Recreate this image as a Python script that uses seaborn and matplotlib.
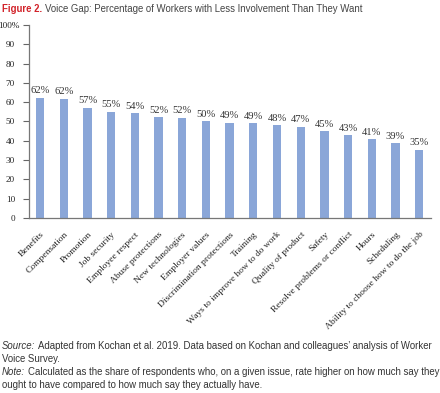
import matplotlib
matplotlib.use("Agg")
import matplotlib.pyplot as plt
import matplotlib.transforms as mtransforms
import seaborn as sns
import pandas as pd

categories = ["Benefits", "Compensation", "Promotion", "Job security", "Employee respect",
              "Abuse protections", "New technologies", "Employer values",
              "Discrimination protections", "Training", "Ways to improve how to do work",
              "Quality of product", "Safety", "Resolve problems or conflict", "Hours",
              "Scheduling", "Ability to choose how to do the job"]
values = [62.2, 61.8, 57.2, 55.1, 54.2, 52.2, 51.9, 50.0, 49.3, 49.2, 48.1, 47.3,
          45.0, 42.9, 40.7, 38.8, 35.4]
yticks = [0, 10, 20, 30, 40, 50, 60, 70, 80, 90, 100]
ytick_labels = ["0", "10", "20", "30", "40", "50", "60", "70", "80", "90", "100%"]

title_red = "Figure 2."
title_rest = "Voice Gap: Percentage of Workers with Less Involvement Than They Want"
source_lines = [("Source:", "Adapted from Kochan et al. 2019. Data based on Kochan and colleagues\u2019 analysis of Worker"),
                (None, "Voice Survey."),
                ("Note:", "Calculated as the share of respondents who, on a given issue, rate higher on how much say they"),
                (None, "ought to have compared to how much say they actually have.")]

sns.set_theme(style="white")
plt.rcParams["font.family"] = ["Liberation Sans", "DejaVu Sans"]

df = pd.DataFrame({"cat": categories, "val": values})

fig = plt.figure(figsize=(4.40, 3.93), dpi=100)
ax = fig.add_axes([29/440, 1 - 218/393, (431-29)/440, (218-25)/393])

bar_color = "#8AA6D8"
sns.barplot(data=df, x="cat", y="val", color=bar_color, width=0.35, ax=ax,
            linewidth=0, saturation=1)

serif = ["Liberation Serif", "DejaVu Serif"]
for i, v in enumerate(values):
    ax.text(i, v + 1.3, f"{round(v)}%", ha="center", va="bottom", fontsize=7.6,
            family=serif, color="#333333")

ax.set_ylim(0, 100)
ax.set_xlim(-0.47, 16.5)
ax.set_yticks(yticks)
ax.set_yticklabels(ytick_labels, family=serif, fontsize=6.6, color="#222222")
ax.set_xticks(range(len(categories)))
ax.set_xticklabels(categories, rotation=45, ha="right", rotation_mode="anchor",
                   family=serif, fontsize=6.8, color="#222222")
ax.tick_params(axis="y", which="both", left=True, length=4, width=0.8, color="#666666", pad=6)
ax.tick_params(axis="x", bottom=False, pad=3)
# shift the "%" of the top label to hang past the others
top_lab = ax.get_yticklabels()[-1]
top_lab.set_transform(top_lab.get_transform() +
                      mtransforms.ScaledTranslation(5/100, 0, fig.dpi_scale_trans))
ax.set_xlabel("")
ax.set_ylabel("")
for s in ["top", "right"]:
    ax.spines[s].set_visible(False)
for s in ["left", "bottom"]:
    ax.spines[s].set_color("#777777")
    ax.spines[s].set_linewidth(0.9)

# Title
t1 = fig.text(2/440, 1 - 14/393, title_red, color="#D2232A", fontsize=6.95,
              fontweight="bold", ha="left", va="bottom")
ax.annotate(title_rest, xy=(1, 0), xycoords=t1, xytext=(2.0, 0), textcoords="offset points",
            ha="left", va="bottom", color="#444444", fontsize=6.95, annotation_clip=False)

# Footnotes
fs = 6.9
y0 = 1 - 351/393
dy = 13/393
for k, (ital, rest) in enumerate(source_lines):
    y = y0 - k*dy
    if ital:
        ti = fig.text(2/440, y, ital, style="italic", color="#333333", fontsize=fs,
                      ha="left", va="bottom")
        ax.annotate(rest, xy=(1, 0), xycoords=ti, xytext=(2.0, 0), textcoords="offset points",
                    ha="left", va="bottom", color="#333333", fontsize=fs, annotation_clip=False)
    else:
        fig.text(2/440, y, rest, color="#333333", fontsize=fs, ha="left", va="bottom")

fig.savefig("out.png", dpi=100)
